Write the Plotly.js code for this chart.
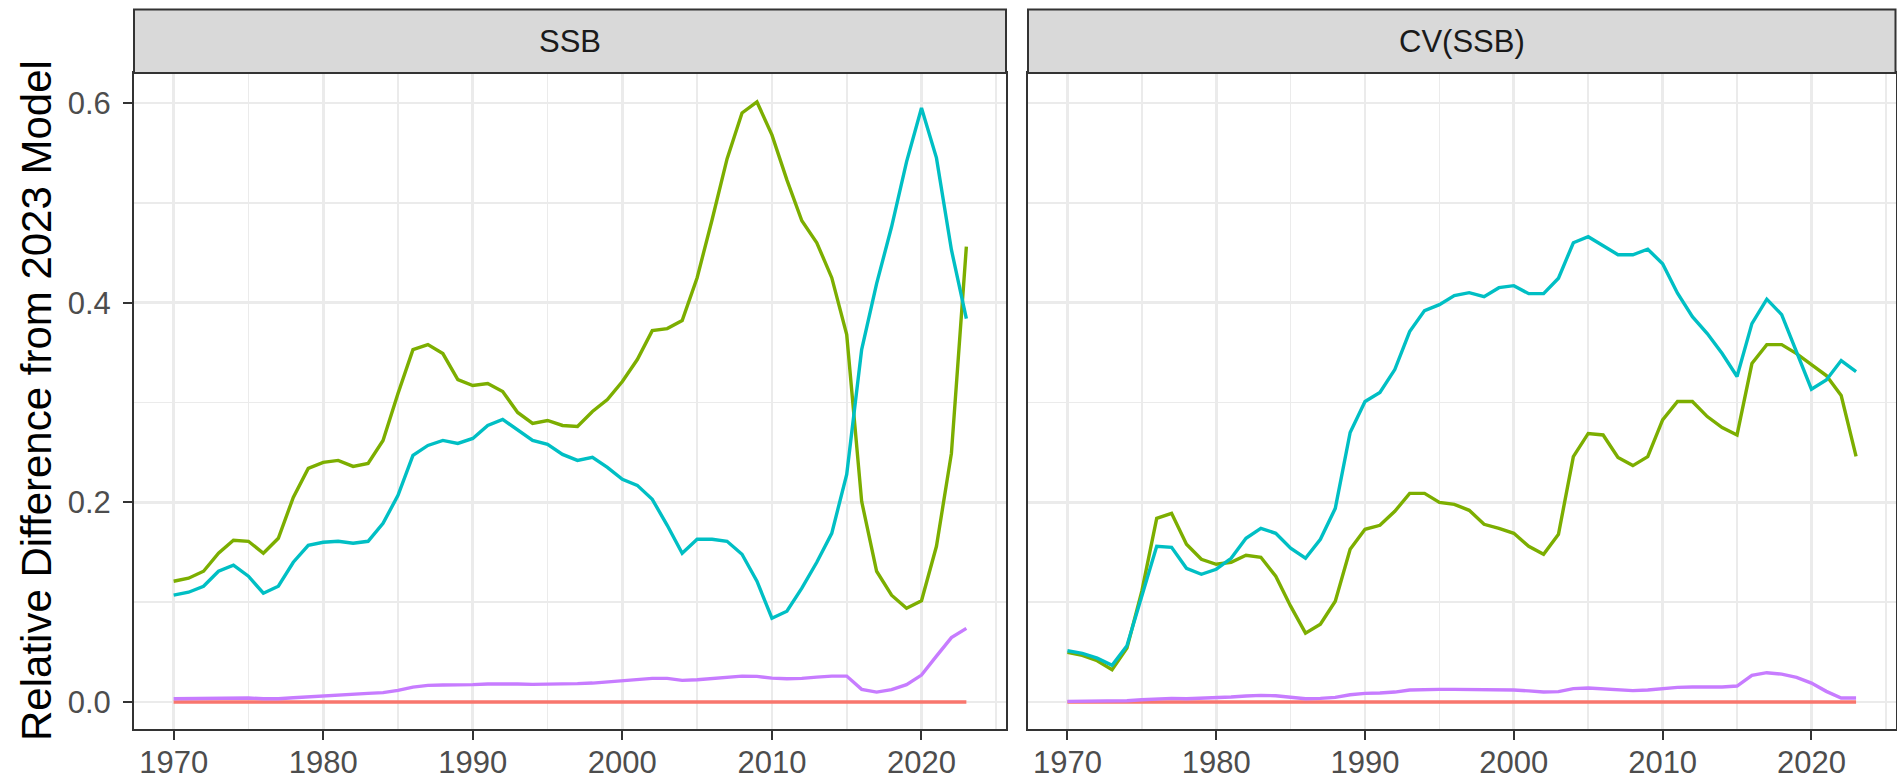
<!DOCTYPE html>
<html>
<head>
<meta charset="utf-8">
<script src="https://cdn.plot.ly/plotly-3.0.1.min.js"></script>
<style>
  html, body { margin: 0; padding: 0; background: #ffffff; }
  #chart { width: 1897px; height: 780px; }
</style>
</head>
<body>
<div id="chart"></div>
<script>
// ---- data ----
const years = [];
for (let y = 1970; y <= 2023; y++) years.push(y);

const panelTitles = ["SSB", "CV(SSB)"];
const seriesColors = ["#F8766D", "#7CAE00", "#00BFC4", "#C77CFF"];

const ssb_red = new Array(54).fill(0);
const ssb_green = [0.121, 0.124, 0.131, 0.149, 0.162, 0.161, 0.149, 0.164, 0.205, 0.234,
  0.240, 0.242, 0.236, 0.239, 0.262, 0.309, 0.353, 0.358, 0.349, 0.323,
  0.317, 0.319, 0.311, 0.290, 0.279, 0.282, 0.277, 0.276, 0.291, 0.303,
  0.321, 0.343, 0.372, 0.374, 0.382, 0.425, 0.483, 0.544, 0.590, 0.601,
  0.568, 0.523, 0.482, 0.460, 0.425, 0.368, 0.201, 0.131, 0.107, 0.094,
  0.1015, 0.156, 0.249, 0.456];
const ssb_cyan = [0.107, 0.110, 0.116, 0.131, 0.137, 0.126, 0.109, 0.116, 0.140, 0.157,
  0.160, 0.161, 0.159, 0.161, 0.179, 0.207, 0.247, 0.257, 0.262, 0.259,
  0.264, 0.277, 0.283, 0.273, 0.262, 0.258, 0.248, 0.242, 0.245, 0.235,
  0.223, 0.217, 0.203, 0.177, 0.149, 0.163, 0.163, 0.161, 0.148, 0.121,
  0.084, 0.091, 0.114, 0.140, 0.169, 0.228, 0.353, 0.419, 0.476, 0.541,
  0.595, 0.545, 0.453, 0.384];
const ssb_purple = [0.0033, 0.0035, 0.0040, 0.0043, 0.0043, 0.0040, 0.0033, 0.0033, 0.0043, 0.0053,
  0.0063, 0.0073, 0.0080, 0.0087, 0.0094, 0.0117, 0.0150, 0.0167, 0.0170, 0.0170,
  0.0174, 0.0180, 0.0184, 0.0180, 0.0177, 0.0177, 0.0180, 0.0184, 0.0190, 0.0200,
  0.0210, 0.0220, 0.0237, 0.0237, 0.0217, 0.0224, 0.0237, 0.0254, 0.0260, 0.0257,
  0.0240, 0.0234, 0.0237, 0.0250, 0.0260, 0.0260, 0.0127, 0.0100, 0.0124, 0.0174,
  0.0270, 0.0460, 0.0645, 0.0738];

const cv_red = new Array(54).fill(0);
const cv_green = [0.0498, 0.0468, 0.0414, 0.0324, 0.054, 0.111, 0.184, 0.189, 0.158, 0.143,
  0.138, 0.140, 0.147, 0.145, 0.126, 0.096, 0.069, 0.078, 0.101, 0.153,
  0.173, 0.177, 0.191, 0.209, 0.209, 0.200, 0.198, 0.192, 0.178, 0.174,
  0.169, 0.156, 0.148, 0.168, 0.2458, 0.269, 0.2675, 0.245, 0.2368, 0.2458,
  0.2826, 0.301, 0.301, 0.2859, 0.2749, 0.2675, 0.339, 0.358, 0.358, 0.349,
  0.338, 0.327, 0.307, 0.246];
const cv_cyan = [0.0514, 0.0488, 0.044, 0.0367, 0.0564, 0.106, 0.156, 0.155, 0.134, 0.128,
  0.133, 0.144, 0.164, 0.174, 0.169, 0.154, 0.144, 0.163, 0.194, 0.270,
  0.301, 0.310, 0.333, 0.371, 0.392, 0.398, 0.407, 0.410, 0.406, 0.415,
  0.417, 0.409, 0.409, 0.4245, 0.460, 0.466, 0.457, 0.448, 0.448, 0.4535,
  0.439, 0.4095, 0.386, 0.369, 0.349, 0.326, 0.379, 0.4035, 0.388, 0.351,
  0.3133, 0.3226, 0.342, 0.331];
const cv_purple = [0.0007, 0.0007, 0.0007, 0.0007, 0.0013, 0.0023, 0.0033, 0.0037, 0.0033, 0.0037,
  0.0043, 0.0050, 0.0060, 0.0067, 0.0063, 0.0047, 0.0033, 0.0037, 0.0047, 0.0073,
  0.0087, 0.0090, 0.0100, 0.0120, 0.0127, 0.0127, 0.0127, 0.0127, 0.0120, 0.0120,
  0.0120, 0.0112, 0.0100, 0.0104, 0.0134, 0.0140, 0.0134, 0.0120, 0.0114, 0.0120,
  0.0137, 0.0147, 0.0150, 0.0150, 0.0150, 0.0160, 0.0267, 0.0294, 0.0280, 0.0247,
  0.0190, 0.0107, 0.0040, 0.0040];

const yTitle = "Relative Difference from 2023 Model";

// ---- build traces ----
const ssbSeries = [ssb_red, ssb_green, ssb_cyan, ssb_purple];
const cvSeries = [cv_red, cv_green, cv_cyan, cv_purple];
const traces = [];
ssbSeries.forEach((s, i) => traces.push({
  x: years, y: s, type: "scatter", mode: "lines", xaxis: "x", yaxis: "y",
  line: {color: seriesColors[i], width: 3.4}, showlegend: false, hoverinfo: "skip"
}));
cvSeries.forEach((s, i) => traces.push({
  x: years, y: s, type: "scatter", mode: "lines", xaxis: "x2", yaxis: "y2",
  line: {color: seriesColors[i], width: 3.4}, showlegend: false, hoverinfo: "skip"
}));

const W = 1897, H = 780;
const dom1 = [134 / W, 1006 / W];
const dom2 = [1028 / W, 1895.5 / W];
const yDom = [(H - 729) / H, (H - 73) / H];
const stripTop = (H - 9.5) / H;

const fontFam = "Liberation Sans, Arial, sans-serif";
const tickFont = {family: fontFam, size: 31, color: "#4D4D4D"};

function xAxis(dom, anchor) {
  return {
    domain: dom, anchor: anchor, range: [1967.35, 2025.65],
    tick0: 1970, dtick: 10, tickformat: "d",
    showgrid: true, gridcolor: "#EBEBEB", gridwidth: 2.8,
    minor: {dtick: 5, tick0: 1970, showgrid: true, gridcolor: "#EBEBEB", gridwidth: 1.6, ticks: ""},
    zeroline: false, showline: true, mirror: true, linecolor: "#333333", linewidth: 2,
    ticks: "outside", ticklen: 9, tickwidth: 2, tickcolor: "#333333",
    tickfont: tickFont, ticklabelstandoff: -4, fixedrange: true
  };
}
function yAxis(anchor, showLabels) {
  return {
    domain: yDom, anchor: anchor, range: [-0.027, 0.630],
    tick0: 0, dtick: 0.2, tickformat: ".1f",
    showgrid: true, gridcolor: "#EBEBEB", gridwidth: 2.8,
    minor: {dtick: 0.1, tick0: 0, showgrid: true, gridcolor: "#EBEBEB", gridwidth: 1.6, ticks: ""},
    zeroline: false, showline: true, mirror: true, linecolor: "#333333", linewidth: 2,
    ticks: showLabels ? "outside" : "", ticklen: 9, tickwidth: 2, tickcolor: "#333333",
    showticklabels: showLabels, tickfont: tickFont, ticklabelstandoff: 6, fixedrange: true
  };
}

const layout = {
  width: W, height: H,
  margin: {l: 0, r: 0, t: 0, b: 0, pad: 0},
  paper_bgcolor: "#FFFFFF", plot_bgcolor: "#FFFFFF",
  showlegend: false,
  xaxis: xAxis(dom1, "y"),
  yaxis: yAxis("x", true),
  xaxis2: xAxis(dom2, "y2"),
  yaxis2: yAxis("x2", false),
  shapes: [dom1, dom2].map(d => ({
    type: "rect", xref: "paper", yref: "paper",
    x0: d[0], x1: d[1], y0: yDom[1], y1: stripTop,
    fillcolor: "#D9D9D9", line: {color: "#333333", width: 2}, layer: "above"
  })),
  annotations: [
    ...[dom1, dom2].map((d, i) => ({
      xref: "paper", yref: "paper", x: (d[0] + d[1]) / 2, y: (yDom[1] + stripTop) / 2,
      xanchor: "center", yanchor: "middle", showarrow: false,
      text: panelTitles[i], font: {family: fontFam, size: 31, color: "#1A1A1A"}
    })),
    {
      xref: "paper", yref: "paper", x: 37 / W, y: (yDom[0] + yDom[1]) / 2,
      xanchor: "center", yanchor: "middle", showarrow: false, textangle: -90,
      text: yTitle, font: {family: fontFam, size: 42, color: "#000000"}
    }
  ]
};

Plotly.newPlot("chart", traces, layout, {staticPlot: true, displayModeBar: false});
</script>
</body>
</html>
